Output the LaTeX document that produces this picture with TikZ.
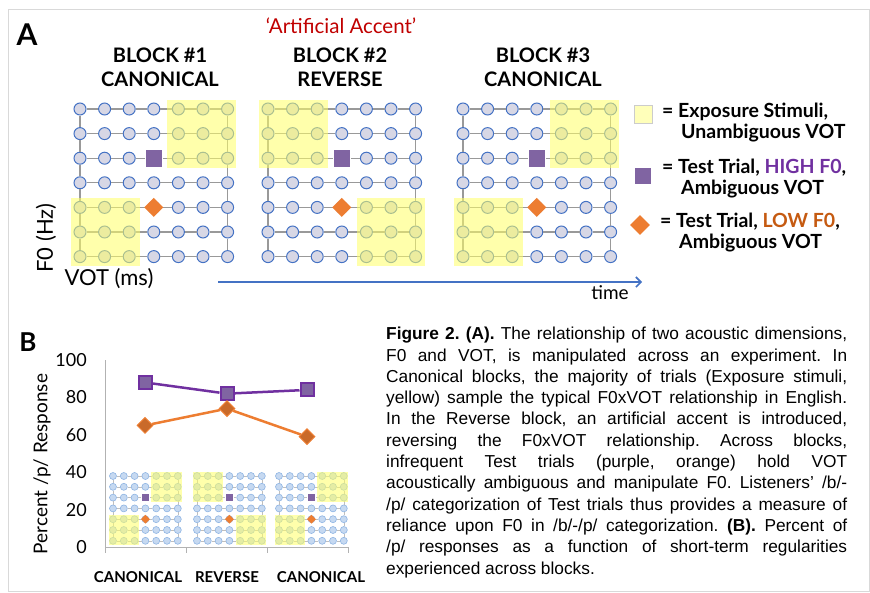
\documentclass[tikz,border=0pt]{standalone}
\usepackage{fontspec}
\setmainfont{Liberation Sans}
\newfontfamily\labelfont{Lato}
\usetikzlibrary{positioning,shapes.geometric,arrows.meta}

\definecolor{dotfill}{HTML}{D7D7E5}
\definecolor{dotedge}{HTML}{4472C4}
\definecolor{smalldotfill}{HTML}{C6D9F1}
\definecolor{smalldotedge}{HTML}{8EB4E3}
\definecolor{exposureyellow}{HTML}{FFFF66}
\definecolor{highpurple}{HTML}{7030A0}
\definecolor{highfill}{HTML}{8064A2}
\definecolor{loworange}{HTML}{ED7D31}
\definecolor{lowtext}{HTML}{C55A11}
\definecolor{accentred}{HTML}{C00000}
\definecolor{timeblue}{HTML}{4472C4}

\tikzset{
  bigdot/.style={circle,draw=dotedge,fill=dotfill,line width=1pt,minimum size=12pt,inner sep=0pt},
  smalldot/.style={circle,draw=smalldotedge,fill=smalldotfill,line width=0.6pt,minimum size=7pt,inner sep=0pt},
  gridline/.style={draw=black!40,line width=1.2pt},
  smallgridline/.style={draw=black!25,line width=0.6pt},
  exposure/.style={fill=exposureyellow,fill opacity=0.55},
  highmark/.style={rectangle,fill=highfill,draw=white,line width=0.4pt,inner sep=0pt},
  lowmark/.style={diamond,fill=loworange,inner sep=0pt},
  blocktitle/.style={font=\labelfont\bfseries\fontsize{20}{24}\selectfont,align=center,inner sep=0pt},
  legendtext/.style={font=\labelfont\bfseries\fontsize{19.5}{21}\selectfont,anchor=west,inner sep=0pt},
  axistext/.style={font=\labelfont\fontsize{22}{24}\selectfont,inner sep=0pt},
  ticklabel/.style={font=\labelfont\fontsize{18}{20}\selectfont,anchor=east,inner sep=0pt},
  catlabel/.style={font=\labelfont\bfseries\fontsize{15}{17}\selectfont,inner sep=0pt},
  panelletter/.style={font=\labelfont\bfseries\fontsize{30}{32}\selectfont,inner sep=0pt},
  axisline/.style={draw=black!30,line width=0.8pt},
  highpoint/.style={rectangle,draw=highpurple,fill=highfill,line width=2pt,minimum size=13pt,inner sep=0pt},
  lowpoint/.style={diamond,draw=loworange,fill=loworange!85!black,line width=1pt,minimum size=16pt,inner sep=0pt},
  highline/.style={draw=highpurple,line width=2.5pt},
  lowline/.style={draw=loworange,line width=2.5pt},
}

% grid of stimuli: name, origin, step, dot style, line style, marker size, exposure cells
\newcommand{\stimgrid}[7]{%
  \begin{scope}[shift={#2},x=#3pt,y=-#3pt]
    \foreach \r in {0,...,6}
      \foreach \c in {0,...,6}
        \node[#4] (#1-\r-\c) at (\c,\r) {};
    % filas
    \foreach \r in {0,...,6}
      \foreach \c [count=\n from 1] in {0,...,5}
        \draw[#5] (#1-\r-\c) -- (#1-\r-\n);
    % lados
    \foreach \r [count=\n from 1] in {0,...,5} {
      \draw[#5] (#1-\r-0) -- (#1-\n-0);
      \draw[#5] (#1-\r-6) -- (#1-\n-6);
    }
    % ensayos de prueba
    \node[highmark,minimum size=0.7*#6pt] (#1-high) at (3,2) {};
    \node[lowmark,minimum size=0.78*#6pt] (#1-low) at (3,4) {};
    #7
  \end{scope}}
\newcommand{\canonicalcells}{%
  \fill[exposure] (3.55,-0.37) rectangle (6.35,2.4);
  \fill[exposure] (-0.37,3.63) rectangle (2.45,6.37);}
\newcommand{\reversecells}{%
  \fill[exposure] (-0.37,-0.37) rectangle (2.45,2.4);
  \fill[exposure] (3.6,3.63) rectangle (6.4,6.37);}

\begin{document}
\begin{tikzpicture}[x=1pt,y=-1pt]
  \useasboundingbox (0,0) rectangle (870,592);
  \draw[black!15,line width=1pt] (8,9) rectangle (869,591);

  % Panel A
  \node[panelletter] (letter-a) at (27,35) {A};
  \node[font=\labelfont\fontsize{20.5}{22}\selectfont,text=accentred,inner sep=0pt] (accent) at (341,26) {‘Artificial Accent’};
  \node[blocktitle] (title-1) at (160,67) {BLOCK \#1\\CANONICAL};
  \node[blocktitle] (title-2) at (340,67) {BLOCK \#2\\REVERSE};
  \node[blocktitle] (title-3) at (543,67) {BLOCK \#3\\CANONICAL};

  \stimgrid{big1}{(80,109)}{24.6}{bigdot}{gridline}{24.6}{\canonicalcells}
  \stimgrid{big2}{(268,109)}{24.6}{bigdot}{gridline}{24.6}{\reversecells}
  \stimgrid{big3}{(463,109)}{24.6}{bigdot}{gridline}{24.6}{\canonicalcells}

  \node[axistext,rotate=90] (f0-label) at (46,238) {F0 (Hz)};
  \node[axistext] (vot-label) at (109,279) {VOT (ms)};

  % Tiempo
  \coordinate (time-start) at (218,282);
  \coordinate (time-end) at (642,282);
  \draw[timeblue,line width=1.6pt,-{Straight Barb[length=5pt,width=10pt]}] (time-start) -- (time-end);
  \node[axistext,font=\labelfont\fontsize{19}{20}\selectfont] (time-label) at (610,293) {time};

  % Leyenda
  \node[rectangle,fill=exposureyellow!45,draw=black!20,line width=0.6pt,minimum size=18pt,inner sep=0pt] (key-exposure) at (643,114) {};
  \node[highmark,minimum size=17pt] (key-high) at (643,176) {};
  \node[lowmark,minimum size=20pt] (key-low) at (640,225) {};
  \node[legendtext] (key-exposure-1) at (662,112) {= Exposure Stimuli,};
  \node[legendtext] (key-exposure-2) at (681,133) {Unambiguous VOT};
  \node[legendtext] (key-high-1) at (662,168) {= Test Trial, \textcolor{highpurple}{HIGH F0},};
  \node[legendtext] (key-high-2) at (681,189) {Ambiguous VOT};
  \node[legendtext] (key-low-1) at (660,222) {= Test Trial, \textcolor{lowtext}{LOW F0},};
  \node[legendtext] (key-low-2) at (679,243) {Ambiguous VOT};

  % Panel B
  \node[panelletter,font=\labelfont\bfseries\fontsize{26}{28}\selectfont] (letter-b) at (28,342) {B};
  \stimgrid{small1}{(113,476)}{10.8}{smalldot}{smallgridline}{11.5}{\canonicalcells}
  \stimgrid{small2}{(197,476)}{10.8}{smalldot}{smallgridline}{11.5}{\reversecells}
  \stimgrid{small3}{(279,476)}{10.8}{smalldot}{smallgridline}{11.5}{\canonicalcells}

  \begin{scope}[shift={(105,547)},x=1pt,y=1.87pt]
    \draw[axisline] (0,0) -- (0,100);
    \draw[axisline] (0,0) -- (243,0);
    \foreach \t in {0,81,162,243}
      \draw[axisline] (\t,0) -- (\t,-3.2);
    \foreach \v in {0,20,...,100}
      \node[ticklabel] (tick-\v) at (-18,\v) {\v};
    % Puntos
    \node[highpoint] (high-1) at (40,88) {};
    \node[highpoint] (high-2) at (122,82) {};
    \node[highpoint] (high-3) at (202,84) {};
    \node[lowpoint] (low-1) at (40,65) {};
    \node[lowpoint] (low-2) at (122,74) {};
    \node[lowpoint] (low-3) at (202,59) {};
    % Líneas
    \draw[highline] (high-1) -- (high-2) -- (high-3);
    \draw[lowline] (low-1) -- (low-2) -- (low-3);
  \end{scope}

  \node[axistext,font=\labelfont\fontsize{19}{20}\selectfont,rotate=90] (percent-label) at (42,464) {Percent /p/ Response};
  \node[catlabel] (cat-1) at (138,577) {CANONICAL};
  \node[catlabel] (cat-2) at (227,577) {REVERSE};
  \node[catlabel] (cat-3) at (321,577) {CANONICAL};

  % Texto
  \node[anchor=north west,inner sep=0pt,text width=461pt,align=justify,
        font=\fontsize{17.3}{21.3}\selectfont] (caption) at (386,327)
  {\frenchspacing\hyphenpenalty=10000\tolerance=10000
   \textbf{Figure 2. (A).} The relationship of two acoustic dimensions,\linebreak
   F0 and VOT, is manipulated across an experiment. In\linebreak
   Canonical blocks, the majority of trials (Exposure stimuli,\linebreak
   yellow) sample the typical F0xVOT relationship in English.\linebreak
   In the Reverse block, an artificial accent is introduced,\linebreak
   reversing the F0xVOT relationship. Across blocks,\linebreak
   infrequent Test trials (purple, orange) hold VOT\linebreak
   acoustically ambiguous and manipulate F0. Listeners’ /b/-\linebreak
   /p/ categorization of Test trials thus provides a measure of\linebreak
   reliance upon F0 in /b/-/p/ categorization. \textbf{(B).} Percent of\linebreak
   /p/ responses as a function of short-term regularities\linebreak
   experienced across blocks.};
\end{tikzpicture}
\end{document}
